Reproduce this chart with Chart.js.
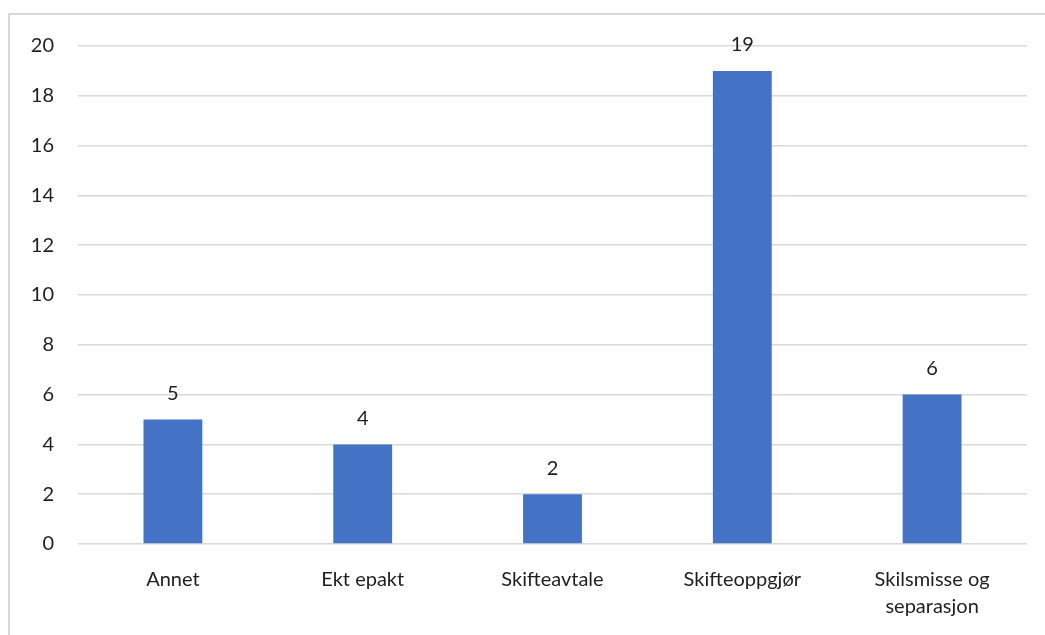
<!DOCTYPE html>
<html>
<head>
<meta charset="utf-8">
<script src="https://cdn.jsdelivr.net/npm/chart.js@4"></script>
<style>
  html, body { margin: 0; padding: 0; background: #fff; }
  #wrap { position: relative; width: 1045px; height: 635px; overflow: hidden; }
  #frame { position: absolute; left: 8px; top: 13px; width: 1100px; height: 700px;
           border-top: 2px solid #d9d9d9; border-left: 2px solid #d9d9d9; box-sizing: border-box; }
  canvas { position: absolute; left: 0; top: 0; }
</style>
</head>
<body>
<div id="wrap">
  <div id="frame"></div>
  <canvas id="c" width="1045" height="635"></canvas>
</div>
<script>
const categories = ["Annet", "Ekt epakt", "Skifteavtale", "Skifteoppgjør", ["Skilsmisse og", "separasjon"]];
const values = [5, 4, 2, 19, 6];
const yTicks = [0, 2, 4, 6, 8, 10, 12, 14, 16, 18, 20];

const FONT = "Lato, 'Open Sans', sans-serif";

const valueLabels = {
  id: 'valueLabels',
  afterDatasetsDraw(chart) {
    const ctx = chart.ctx;
    const meta = chart.getDatasetMeta(0);
    ctx.save();
    ctx.font = "20px " + FONT;
    ctx.fillStyle = "#1f1f1f";
    ctx.textAlign = "center";
    ctx.textBaseline = "middle";
    meta.data.forEach((bar, i) => {
      ctx.fillText(String(values[i]), bar.x, bar.y - 26);
    });
    ctx.restore();
  }
};

new Chart(document.getElementById('c'), {
  type: 'bar',
  data: {
    labels: categories,
    datasets: [{
      data: values,
      backgroundColor: '#4472C4',
      borderWidth: 0,
      barPercentage: 0.31,
      categoryPercentage: 1.0
    }]
  },
  options: {
    responsive: false,
    animation: false,
    devicePixelRatio: 1,
    layout: { padding: { top: 46, right: 18, left: 0, bottom: 0 } },
    plugins: { legend: { display: false }, tooltip: { enabled: false } },
    scales: {
      x: {
        grid: { display: false, drawTicks: false },
        border: { display: false },
        ticks: { color: '#1f1f1f', font: { family: FONT, size: 20, lineHeight: 1.35 }, padding: 22, maxRotation: 0, autoSkip: false },
        afterFit(scale) { scale.height = 91; }
      },
      y: {
        min: 0, max: 20,
        afterBuildTicks(scale) { scale.ticks = yTicks.map(v => ({ value: v })); },
        grid: { color: '#d9d9d9', lineWidth: 1.5, drawTicks: false },
        border: { display: false },
        ticks: { color: '#1f1f1f', font: { family: FONT, size: 20 }, padding: 24 },
        afterFit(scale) { scale.width = 78; }
      }
    }
  },
  plugins: [valueLabels]
});
</script>
</body>
</html>
